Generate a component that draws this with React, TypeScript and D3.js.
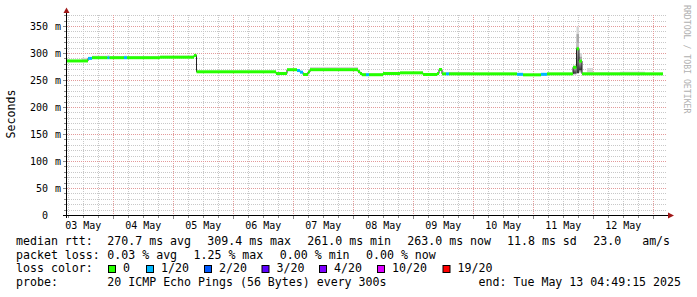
import React from 'react';
import * as d3 from 'd3';

// ---------- data (hours since 2025-05-03 00:00) ----------
const segStartHours = [5.5, 11.5, 13.9, 15.5, 21.7, 22.5, 28.3, 29.5, 42.7, 56.3, 57.3, 89.1, 93.5, 97.5, 98.7, 99.9, 101.9, 102.7, 121.9, 122.7, 123.5, 125.1, 126.3, 131.9, 138.7, 147.9, 153.5, 154.3, 155.5, 157.1, 158.3, 166.7, 185.5, 187.9, 195.1, 197.5, 207.9, 209.3, 210.3, 211.5, 213.5, 215.9, 226.7, 236.7];
const segEndHour = 243.9;
const medianMs = [285.3, 285.3, 290.0, 291.3, 291.3, 291.3, 291.3, 291.3, 292.2, 295.5, 265.2, 262.0, 269.1, 267.5, 264.5, 260.2, 265.0, 269.1, 265.5, 262.0, 259.8, 259.8, 259.8, 262.0, 263.3, 260.2, 262.0, 269.4, 261.4, 261.4, 261.4, 261.4, 260.5, 259.6, 260.5, 261.4, 273.5, 307.8, 285.0, 261.4, 261.4, 261.4, 261.4, 261.4];
const lossCount = [0, 0, 1, 0, 1, 0, 1, 0, 0, 0, 0, 0, 0, 1, 1, 0, 0, 0, 0, 0, 0, 1, 0, 0, 0, 0, 0, 0, 0, 1, 0, 0, 1, 0, 1, 0, 0, 0, 0, 0, 0, 0, 0, 0];
const smokeLoMs = [285, 285, 289, 291, 291, 291, 291, 291, 292, 295, 265, 261, 268, 266, 263, 259.5, 264, 268.5, 265, 261, 259, 259, 259, 261, 262.5, 259.5, 261, 268, 261, 261, 261, 261, 260, 259, 260, 261, 259, 262, 263, 261, 261, 261, 261, 261];
const smokeHiMs = [286.5, 291, 292, 295, 296, 294, 295, 293.5, 295, 297, 266, 264, 270.5, 269, 266, 261, 266, 274, 268, 263, 262, 262, 262, 265, 264.5, 262, 263, 271, 263, 264, 265, 263, 262, 261.5, 262, 263, 277, 349, 300, 264, 272, 264, 265.5, 263];
// darker inner smoke of the spike
const spikeStartHours = [207.9, 209.3, 210.3];
const spikeEndHour = 211.5;
const spikeMidLo = [261, 262, 265];
const spikeMidHi = [276, 335, 293];
const spikeCoreLo = [262, 263, 268];
const spikeCoreHi = [274, 318, 288];

const yTickValues = [0, 50, 100, 150, 200, 250, 300, 350];
const dayLabelHours = [12, 36, 60, 84, 108, 132, 156, 180, 204, 228];

const lossLevels = [0, 1, 2, 3, 4, 10, 19];
const lossColors = ['#26ff00', '#00b8ff', '#0059ff', '#5e00ff', '#7e00ff', '#dd00ff', '#ff0000'];
const lossLegendLabels = ['0', '1/20', '2/20', '3/20', '4/20', '10/20', '19/20'];
const rttLegend = ['270.7 ms avg', '309.4 ms max', '261.0 ms min', '263.0 ms now', '11.8 ms sd', '23.0   am/s'];
const lossLegend = ['0.03 % avg', '1.25 % max', '0.00 % min', '0.00 % now'];
const probeText = '20 ICMP Echo Pings (56 Bytes) every 300s';
const endText = 'end: Tue May 13 04:49:15 2025';

// ---------- layout ----------
const T0 = Date.UTC(2025, 4, 3);
const hr = (h: number) => new Date(T0 + h * 3600e3);
const X0 = 67, X1 = 667, YB = 215, YT = 15;
const MONO = '"DejaVu Sans Mono", monospace';

const x = d3.scaleUtc().domain([hr(5.5), hr(245.5)]).range([X0, X1]);
const y = d3.scaleLinear().domain([0, 370.37]).range([YB, YT]);

function colorFor(loss: number) {
  let c = lossColors[0];
  lossLevels.forEach((l, i) => { if (loss >= l) c = lossColors[i]; });
  return c;
}

export default function App() {
  const n = segStartHours.length;
  const segEnd = (i: number) => (i + 1 < n ? segStartHours[i + 1] : segEndHour);

  // gridlines
  const hGrid: { v: number; major: boolean }[] = [];
  for (let v = 10; v <= 370; v += 10) hGrid.push({ v, major: v % 50 === 0 });
  const vGrid: { h: number; major: boolean }[] = [];
  for (let h = 6; h <= 245.5; h += 6) vGrid.push({ h, major: h % 24 === 0 });

  // black median step line
  const linePts: [number, number][] = [];
  for (let i = 0; i < n; i++) {
    linePts.push([x(hr(segStartHours[i])), y(medianMs[i])]);
    linePts.push([x(hr(segEnd(i))), y(medianMs[i])]);
  }
  const lineGen = d3.line();

  const fmtDay = d3.utcFormat('%d %b');

  const rttX = [107.3, 207.3, 307.3, 407.3, 507, 593.3];
  const lossX = [107.3, 193.5, 279.8, 366];
  const boxX = [108.5, 146.5, 204.5, 262, 319.5, 377.5, 443];

  return (
    <svg width={697} height={297} style={{ position: 'absolute', left: 0, top: 0, background: '#fff' }}>
      <rect x={0} y={0} width={697} height={297} fill="#ffffff" />
      {/* grid */}
      {hGrid.filter((g) => !g.major).map((g) => (
        <line key={'hm' + g.v} x1={X0} x2={X1} y1={Math.round(y(g.v)) + 0.5} y2={Math.round(y(g.v)) + 0.5} stroke="#c8c8c8" strokeDasharray="1,1" />
      ))}
      {vGrid.filter((g) => !g.major).map((g) => (
        <line key={'vm' + g.h} x1={Math.round(x(hr(g.h))) + 0.5} x2={Math.round(x(hr(g.h))) + 0.5} y1={YT} y2={YB} stroke="#c8c8c8" strokeDasharray="1,1" />
      ))}
      {hGrid.filter((g) => g.major).map((g) => (
        <line key={'hM' + g.v} x1={X0} x2={X1} y1={Math.round(y(g.v)) + 0.5} y2={Math.round(y(g.v)) + 0.5} stroke="#e39a9a" strokeDasharray="1,1" />
      ))}
      {vGrid.filter((g) => g.major).map((g) => (
        <line key={'vM' + g.h} x1={Math.round(x(hr(g.h))) + 0.5} x2={Math.round(x(hr(g.h))) + 0.5} y1={YT} y2={YB} stroke="#e39a9a" strokeDasharray="1,1" />
      ))}

      {/* smoke */}
      {segStartHours.map((h, i) => (
        <rect key={'s' + i} x={x(hr(h))} width={x(hr(segEnd(i))) - x(hr(h))} y={y(smokeHiMs[i])} height={y(smokeLoMs[i]) - y(smokeHiMs[i])} fill="#d6d6d6" />
      ))}
      <defs>
        <linearGradient id="spg" x1="0" y1="1" x2="0" y2="0">
          <stop offset="0" stopColor="#303030" />
          <stop offset="1" stopColor="#c8c8c8" />
        </linearGradient>
      </defs>
      {spikeStartHours.map((h, i) => {
        const e = i + 1 < spikeStartHours.length ? spikeStartHours[i + 1] : spikeEndHour;
        return (
          <g key={'sp' + i}>
            <rect x={x(hr(h))} width={x(hr(e)) - x(hr(h))} y={y(spikeMidHi[i])} height={y(spikeMidLo[i]) - y(spikeMidHi[i])} fill="#a8a8a8" />
            <rect x={x(hr(h))} width={x(hr(e)) - x(hr(h))} y={y(spikeCoreHi[i])} height={y(spikeCoreLo[i]) - y(spikeCoreHi[i])} fill="url(#spg)" />
          </g>
        );
      })}

      {/* median black line */}
      <path d={lineGen(linePts) || ''} fill="none" stroke="#202020" strokeWidth={1} />
      {/* loss colored median bands */}
      {segStartHours.map((h, i) => (
        <rect key={'m' + i} x={x(hr(h))} width={x(hr(segEnd(i))) - x(hr(h))} y={y(medianMs[i]) - 1.5} height={3} fill={colorFor(lossCount[i])} />
      ))}

      {/* axes */}
      <line x1={66.5} x2={66.5} y1={12} y2={218} stroke="#000" />
      <line x1={63} x2={669} y1={215.5} y2={215.5} stroke="#000" />
      <path d="M66.5,7.5 L63.5,13 L69.5,13 Z" fill="#a01818" />
      <path d="M674,215.5 L668,212.5 L668,218.5 Z" fill="#a01818" />
      {hGrid.map((g) => (
        <line key={'yt' + g.v} x1={g.major ? 63 : 64} x2={66} y1={Math.round(y(g.v)) + 0.5} y2={Math.round(y(g.v)) + 0.5} stroke="#888" />
      ))}
      {vGrid.map((g) => (
        <line key={'xt' + g.h} x1={Math.round(x(hr(g.h))) + 0.5} x2={Math.round(x(hr(g.h))) + 0.5} y1={216} y2={g.major ? 219 : 218} stroke="#888" />
      ))}

      {/* y labels */}
      {yTickValues.map((v) => (
        <g key={'yl' + v} fontFamily={MONO} fontSize={10} fill="#000">
          <text x={48} y={y(v) + 3.6} textAnchor="end">{String(v)}</text>
          {v !== 0 && <text x={55} y={y(v) + 3.6}>m</text>}
        </g>
      ))}
      {/* x labels */}
      {dayLabelHours.map((h) => (
        <text key={'xl' + h} x={x(hr(h))} y={228.5} textAnchor="middle" fontFamily={MONO} fontSize={10} fill="#000">{fmtDay(hr(h))}</text>
      ))}
      <text transform="translate(15,114) rotate(-90)" textAnchor="middle" fontFamily={MONO} fontSize={11.6} fill="#000">Seconds</text>
      <text transform="translate(684,5) rotate(90)" fontFamily={MONO} fontSize={8.2} fill="#b0b0b0">RRDTOOL / TOBI OETIKER</text>

      {/* legend */}
      <g fontFamily={MONO} fontSize={11.6} fill="#000" style={{ whiteSpace: 'pre' }}>
        <text x={16} y={245}>median rtt:</text>
        {rttLegend.map((s, i) => <text key={'r' + i} x={rttX[i]} y={245} xmlSpace="preserve">{s}</text>)}
        <text x={16} y={258.7}>packet loss:</text>
        {lossLegend.map((s, i) => <text key={'l' + i} x={lossX[i]} y={258.7} xmlSpace="preserve">{s}</text>)}
        <text x={16} y={272.4}>loss color:</text>
        {lossLegendLabels.map((s, i) => (
          <g key={'b' + i}>
            <rect x={boxX[i]} y={265.5} width={7} height={7} fill={lossColors[i]} stroke="#000" />
            <text x={boxX[i] + 14.5} y={272.4}>{s}</text>
          </g>
        ))}
        <text x={16} y={286}>probe:</text>
        <text x={107.3} y={286}>{probeText}</text>
        <text x={681} y={286} textAnchor="end">{endText}</text>
      </g>
    </svg>
  );
}
